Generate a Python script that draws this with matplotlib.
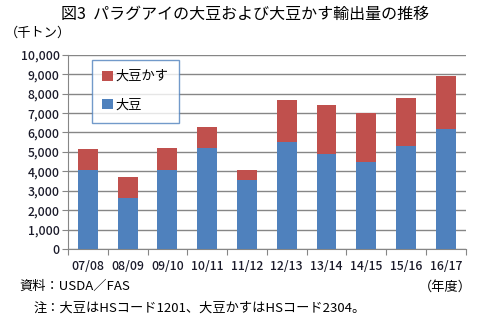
import matplotlib.pyplot as plt
import numpy as np

plt.rcParams['font.family'] = ['Noto Sans CJK JP', 'DejaVu Sans']

# export volumes (thousand tons)
years = ['07/08', '08/09', '09/10', '10/11', '11/12', '12/13', '13/14', '14/15', '15/16', '16/17']
soybean = [4070, 2640, 4080, 5210, 3570, 5520, 4890, 4480, 5300, 6160]
soymeal = [1080, 1060, 1120, 1070, 500, 2150, 2520, 2520, 2470, 2740]

fig = plt.figure(figsize=(4.94, 3.24), dpi=100)
ax = fig.add_axes([0.1377, 0.2315, 0.805, 0.5995])

x = np.arange(len(years))
b1 = ax.bar(x, soybean, width=0.5, color='#4F81BD', label='大豆', zorder=3)
b2 = ax.bar(x, soymeal, width=0.5, bottom=soybean, color='#C0504D', label='大豆かす', zorder=3)

ax.set_xlim(-0.5, len(years) - 0.5)
ax.set_ylim(0, 10000)
ax.set_yticks(range(0, 10001, 1000))
ax.set_yticklabels([f'{v:,}' for v in range(0, 10001, 1000)], fontsize=8.8,
                   color='#1a1a2a', fontweight='medium')
ax.set_xticks(np.arange(len(years) + 1) - 0.5)
ax.set_xticklabels([])
ax.set_xticks(x, minor=True)
ax.set_xticklabels(years, minor=True, fontsize=8.8, color='#1a1a2a', fontweight='medium')
ax.tick_params(axis='x', which='minor', length=0, pad=8)
ax.tick_params(axis='x', which='major', length=4, color='#868686')
ax.tick_params(axis='y', length=4, color='#868686', pad=2)

ax.grid(axis='y', color='#868686', linewidth=1, zorder=0)
for s in ['top', 'right']:
    ax.spines[s].set_visible(False)
for s in ['left', 'bottom']:
    ax.spines[s].set_color('#868686')

leg = ax.legend(handles=[b2, b1], loc='upper left', bbox_to_anchor=(0.06, 0.975),
                fontsize=9.5, frameon=True, fancybox=False, handlelength=0.8,
                handleheight=0.8, handletextpad=0.2, labelspacing=1.2,
                borderpad=0.8, borderaxespad=0)
leg.get_frame().set_edgecolor('#4F81BD')
leg.get_frame().set_linewidth(1)

fig.text(0.497, 0.955, '図3  パラグアイの大豆および大豆かす輸出量の推移', ha='center', va='center', fontsize=11.5)
fig.text(0.01, 0.898, '（千トン）', ha='left', va='center', fontsize=9.5)
fig.text(0.04, 0.115, '資料：USDA／FAS', ha='left', va='center', fontsize=9.5)
fig.text(0.955, 0.115, '（年度）', ha='right', va='center', fontsize=9.5)
fig.text(0.067, 0.05, '注：大豆はHSコード1201、大豆かすはHSコード2304。', ha='left', va='center', fontsize=9.5)

fig.savefig('out.png', dpi=100)
